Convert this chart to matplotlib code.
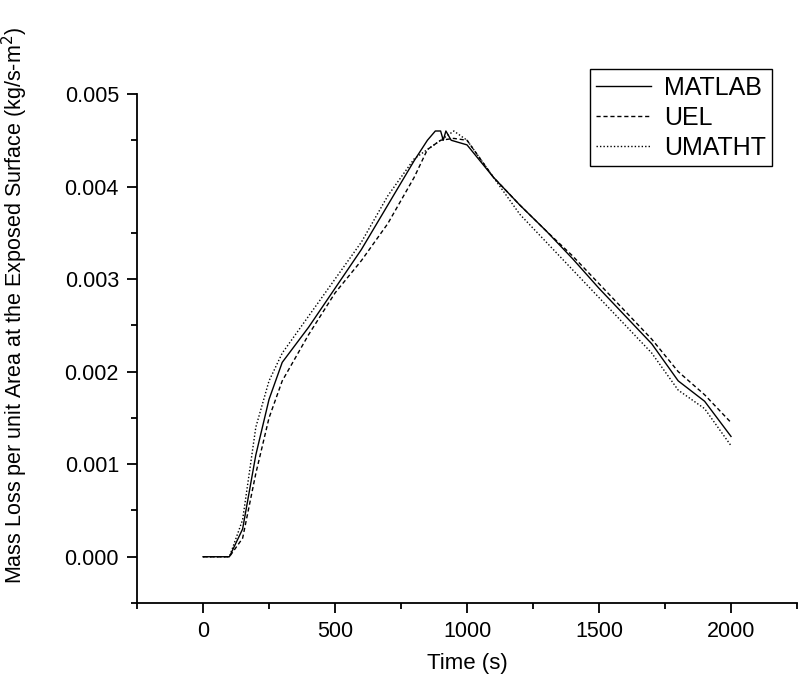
import numpy as np
import matplotlib
matplotlib.use("Agg")
import matplotlib.pyplot as plt
from matplotlib.ticker import MultipleLocator, FormatStrFormatter

plt.rcParams['font.family'] = ['Liberation Sans', 'DejaVu Sans']

# values
t_matlab = [0, 100, 150, 200, 250, 300, 400, 500, 600, 700, 800, 850, 880, 900, 910, 920, 940,
            1000, 1100, 1200, 1300, 1400, 1500, 1600, 1700, 1800, 1900, 2000]
y_matlab = [0, 0, 0.0003, 0.0011, 0.0017, 0.0021, 0.00248, 0.0029, 0.00332, 0.0038, 0.00428,
            0.0045, 0.0046, 0.0046, 0.0045, 0.0046, 0.0045, 0.00445, 0.0041, 0.0038, 0.00352,
            0.00322, 0.0029, 0.0026, 0.0023, 0.0019, 0.00168, 0.0013]

t_uel = [0, 100, 150, 200, 250, 300, 400, 500, 600, 700, 800, 850, 900, 950, 1000, 1100, 1200,
         1300, 1400, 1500, 1600, 1700, 1800, 1900, 2000]
y_uel = [0, 0, 0.0002, 0.0009, 0.0015, 0.0019, 0.0024, 0.00285, 0.0032, 0.0036, 0.0041, 0.0044,
         0.0045, 0.00452, 0.0045, 0.0041, 0.0038, 0.00352, 0.00325, 0.00295, 0.00265, 0.00235,
         0.002, 0.00175, 0.00145]

t_umatht = [0, 100, 150, 200, 250, 300, 400, 500, 600, 700, 800, 900, 950, 1000, 1100, 1200,
            1300, 1400, 1500, 1600, 1700, 1800, 1900, 2000]
y_umatht = [0, 0, 0.0004, 0.0014, 0.0019, 0.0022, 0.0026, 0.003, 0.0034, 0.0039, 0.0043, 0.0045,
            0.0046, 0.0045, 0.0041, 0.0037, 0.0034, 0.0031, 0.0028, 0.0025, 0.0022, 0.0018,
            0.0016, 0.0012]

fig = plt.figure(figsize=(7.99, 6.89), dpi=100)
ax = fig.add_axes([0.1715, 0.1248, 0.826, 0.7388])

ax.plot(t_matlab, y_matlab, color='black', linestyle='-', linewidth=1.0, label='MATLAB')
ax.plot(t_uel, y_uel, color='black', linestyle=(0, (3, 2)), linewidth=1.0, label='UEL')
ax.plot(t_umatht, y_umatht, color='black', linestyle=(0, (1, 1.5)), linewidth=1.0, label='UMATHT')

ax.set_xlim(-250, 2250)
ax.set_ylim(-0.0005, 0.005)
ax.xaxis.set_major_locator(MultipleLocator(500))
ax.xaxis.set_minor_locator(MultipleLocator(250))
ax.yaxis.set_major_locator(MultipleLocator(0.001))
ax.yaxis.set_minor_locator(MultipleLocator(0.0005))
ax.yaxis.set_major_formatter(FormatStrFormatter('%.3f'))

for s in ['top', 'right']:
    ax.spines[s].set_visible(False)
for s in ['left', 'bottom']:
    ax.spines[s].set_linewidth(1.3)

ax.tick_params(which='major', direction='out', length=7, width=1.3, labelsize=15.5, pad=6)
ax.tick_params(which='minor', direction='out', length=4, width=1.3)

ax.set_xlabel('Time (s)', fontsize=16, labelpad=8)
ax.set_ylabel('Mass Loss per unit Area at the Exposed Surface (kg/s-m$^2$)', fontsize=15.5)
ax.yaxis.set_label_coords(-0.162, 0.585)

leg = ax.legend(loc='upper right', bbox_to_anchor=(0.981, 1.073), fontsize=18, fancybox=False,
                edgecolor='black', framealpha=1, handlelength=2.2, handletextpad=0.5,
                borderpad=0.25, labelspacing=0.25)
leg.get_frame().set_linewidth(1.0)

fig.savefig('out.png', dpi=100)
